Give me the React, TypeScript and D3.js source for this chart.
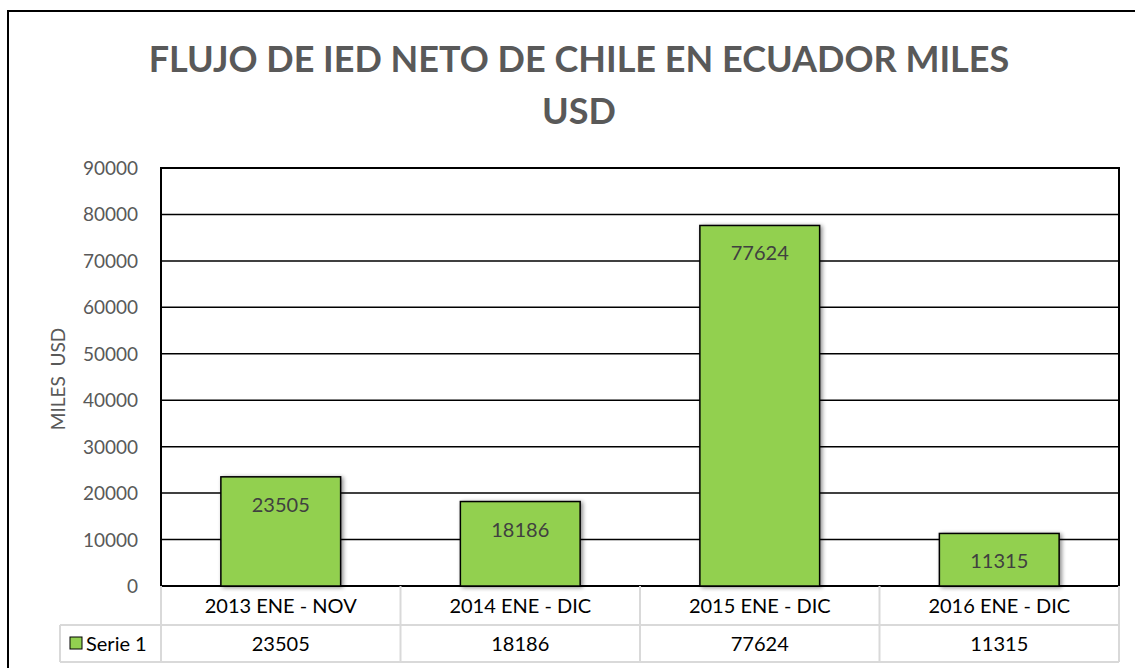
import React from "react";
import * as d3 from "d3";

const categories = ["2013 ENE - NOV", "2014 ENE - DIC", "2015 ENE - DIC", "2016 ENE - DIC"];
const values = [23505, 18186, 77624, 11315];
const yTicks = [0, 10000, 20000, 30000, 40000, 50000, 60000, 70000, 80000, 90000];
const seriesName = "Serie 1";
const titleLines = ["FLUJO DE IED NETO DE CHILE EN ECUADOR MILES", "USD"];
const yTitle = "MILES  USD";

const W = 1135;
const H = 668;
const plot = { left: 161, right: 1119, top: 168, bottom: 586 };
const rowH1 = 39;
const rowH2 = 37;
const legendColLeft = 60;
const FONT = "Lato, 'Open Sans', sans-serif";
const GREEN = "#92D050";

export default function App() {
  const x = d3.scaleBand<string>().domain(categories).range([plot.left, plot.right]).paddingInner(0).paddingOuter(0);
  const y = d3.scaleLinear().domain([0, 90000]).range([plot.bottom, plot.top]);
  const bw = x.bandwidth() * 0.5;
  const tableTop = plot.bottom;
  const row1B = tableTop + rowH1;
  const row2B = row1B + rowH2;
  const tableGrey = "#d9d9d9";

  return (
    <svg width={W} height={H} style={{ position: "absolute", left: 0, top: 0 }} fontFamily={FONT}>
      <defs>
        <filter id="sh" x="-20%" y="-20%" width="140%" height="140%">
          <feGaussianBlur in="SourceAlpha" stdDeviation="2" />
          <feOffset dx="2" dy="1" result="b" />
          <feComponentTransfer><feFuncA type="linear" slope="0.45" /></feComponentTransfer>
          <feMerge><feMergeNode /><feMergeNode in="SourceGraphic" /></feMerge>
        </filter>
      </defs>
      <rect x={0} y={0} width={W} height={H} fill="#fff" />
      <rect x={8} y={11} width={W + 20} height={H + 20} fill="#fff" stroke="#000" strokeWidth={2} />

      {titleLines.map((t, i) => (
        <text key={i} x={579} y={72 + i * 52} textAnchor="middle" fontSize={36} fontWeight="bold" fill="#595959">{t}</text>
      ))}

      {/* gridlines */}
      {yTicks.map((t) => (
        <line key={t} x1={plot.left} x2={plot.right} y1={y(t)} y2={y(t)} stroke="#000" strokeWidth={1.5} />
      ))}
      {yTicks.map((t) => (
        <text key={"l" + t} x={138} y={y(t) + 7} textAnchor="end" fontSize={19} fill="#595959">{t}</text>
      ))}
      <text transform={`translate(65, ${(plot.top + plot.bottom) / 2 + 2}) rotate(-90)`} textAnchor="middle" fontSize={19} fill="#595959" style={{ whiteSpace: "pre" }}>{yTitle}</text>

      {/* plot border */}
      <rect x={plot.left} y={plot.top} width={plot.right - plot.left} height={plot.bottom - plot.top} fill="none" stroke="#000" strokeWidth={2} />

      {/* bars */}
      {values.map((v, i) => {
        const cx = (x(categories[i]) as number) + x.bandwidth() / 2;
        return (
          <g key={i}>
            <rect x={cx - bw / 2} y={y(v)} width={bw} height={plot.bottom - y(v)} fill={GREEN} stroke="#000" strokeWidth={1.5} filter="url(#sh)" />
            <text x={cx} y={y(v) + 35} textAnchor="middle" fontSize={20} fill="#404040">{v}</text>
          </g>
        );
      })}

      {/* data table */}
      <g stroke={tableGrey} strokeWidth={2}>
        <line x1={plot.left} x2={plot.right} y1={row1B} y2={row1B} />
        <line x1={legendColLeft} x2={plot.right} y1={row1B} y2={row1B} />
        <line x1={legendColLeft} x2={plot.right} y1={row2B} y2={row2B} />
        <line x1={legendColLeft} x2={legendColLeft} y1={row1B} y2={row2B} />
        <line x1={plot.left} x2={plot.left} y1={tableTop} y2={row2B} />
        {categories.map((c) => (
          <line key={c} x1={(x(c) as number) + x.bandwidth()} x2={(x(c) as number) + x.bandwidth()} y1={tableTop} y2={row2B} />
        ))}
      </g>
      {categories.map((c, i) => {
        const cx = (x(c) as number) + x.bandwidth() / 2;
        return (
          <g key={c}>
            <text x={cx} y={tableTop + 27} textAnchor="middle" fontSize={20} fill="#000">{c}</text>
            <text x={cx} y={row1B + 26} textAnchor="middle" fontSize={20} fill="#000">{values[i]}</text>
          </g>
        );
      })}
      <rect x={70} y={637} width={12} height={12} fill={GREEN} stroke="#000" strokeWidth={1} />
      <text x={86} y={row1B + 26} fontSize={20} fill="#000">{seriesName}</text>
    </svg>
  );
}
